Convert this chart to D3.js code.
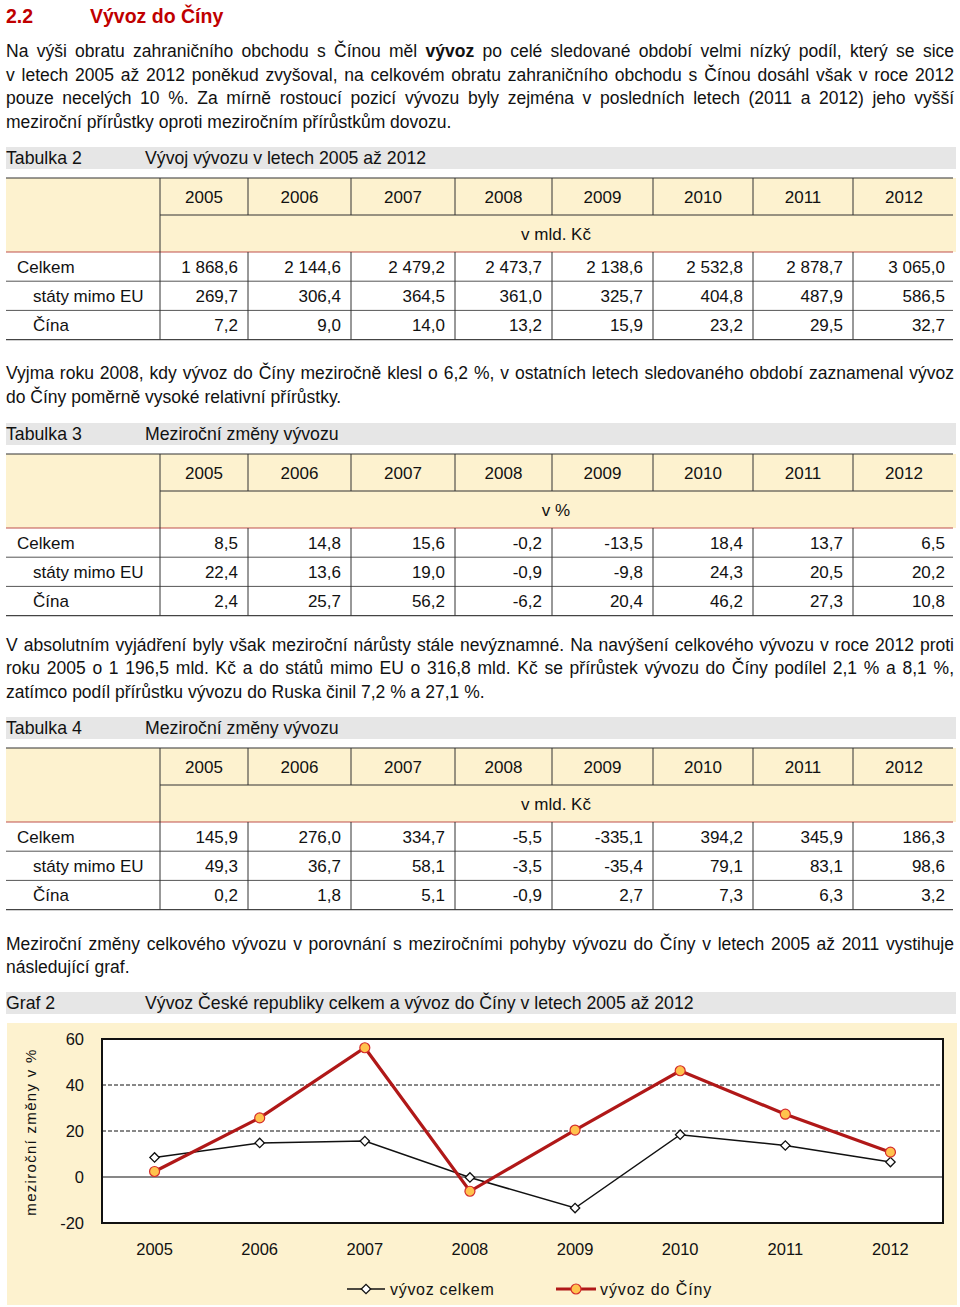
<!DOCTYPE html>
<html>
<head>
<meta charset="utf-8">
<script src="https://cdn.jsdelivr.net/npm/d3@7"></script>
<style>
  body { margin: 0; background: #fff; }
  #page { position: relative; width: 960px; height: 1307px; overflow: hidden; font-family: "Liberation Sans", Arial, sans-serif; color: #111; }
  #page svg { position: absolute; left: 0; top: 0; }
  .ln { position: absolute; left: 6px; width: 948px; font-size: 17.5px; line-height: 24px; white-space: nowrap; text-align: justify; text-align-last: justify; }
  .ln.last { text-align-last: left; }
</style>
</head>
<body>
<div id="page"></div>
<script>
// table + chart data
var years = ["2005", "2006", "2007", "2008", "2009", "2010", "2011", "2012"];
var rowLabels = ["Celkem", "státy mimo EU", "Čína"];

var t2Celkem = ["1 868,6", "2 144,6", "2 479,2", "2 473,7", "2 138,6", "2 532,8", "2 878,7", "3 065,0"];
var t2MimoEU = ["269,7", "306,4", "364,5", "361,0", "325,7", "404,8", "487,9", "586,5"];
var t2Cina   = ["7,2", "9,0", "14,0", "13,2", "15,9", "23,2", "29,5", "32,7"];

var t3Celkem = ["8,5", "14,8", "15,6", "-0,2", "-13,5", "18,4", "13,7", "6,5"];
var t3MimoEU = ["22,4", "13,6", "19,0", "-0,9", "-9,8", "24,3", "20,5", "20,2"];
var t3Cina   = ["2,4", "25,7", "56,2", "-6,2", "20,4", "46,2", "27,3", "10,8"];

var t4Celkem = ["145,9", "276,0", "334,7", "-5,5", "-335,1", "394,2", "345,9", "186,3"];
var t4MimoEU = ["49,3", "36,7", "58,1", "-3,5", "-35,4", "79,1", "83,1", "98,6"];
var t4Cina   = ["0,2", "1,8", "5,1", "-0,9", "2,7", "7,3", "6,3", "3,2"];

// graph series (meziroční změny v %)
var vyvozCelkem = [8.5, 14.8, 15.6, -0.2, -13.5, 18.4, 13.7, 6.5];
var vyvozCina   = [2.4, 25.7, 56.2, -6.2, 20.4, 46.2, 27.3, 10.8];
var yTicks = [-20, 0, 20, 40, 60];

var page = d3.select("#page");
var W = 960, H = 1307;
var svg = page.append("svg").attr("width", W).attr("height", H);

var red = "#c00000";
var cream = "#fdf2cf";
var capGray = "#e6e6e6";
var fs = 17.7;   // caption size
var tfs = 17;    // table size

// heading
svg.append("text").attr("x", 6).attr("y", 23).attr("fill", red)
  .attr("font-size", 19.5).attr("font-weight", "bold").text("2.2");
svg.append("text").attr("x", 90).attr("y", 23).attr("fill", red)
  .attr("font-size", 19.5).attr("font-weight", "bold").text("Vývoz do Číny");

// paragraphs, one div per line so the breaks stay as in the original
function para(lines, centers) {
  lines.forEach(function(t, i) {
    page.append("div")
      .attr("class", "ln" + (i == lines.length - 1 ? " last" : ""))
      .style("top", (centers[i] - 12) + "px")
      .html(t);
  });
}
para([
  "Na výši obratu zahraničního obchodu s Čínou měl <b>vývoz</b> po celé sledované období velmi nízký podíl, který se sice",
  "v letech 2005 až 2012 poněkud zvyšoval, na celkovém obratu zahraničního obchodu s Čínou dosáhl však v roce 2012",
  "pouze necelých 10 %. Za mírně rostoucí pozicí vývozu byly zejména v posledních letech (2011 a 2012) jeho vyšší",
  "meziroční přírůstky oproti meziročním přírůstkům dovozu."
], [51, 74.5, 98, 121.5]);
para([
  "Vyjma roku 2008, kdy vývoz do Číny meziročně klesl o 6,2 %, v ostatních letech sledovaného období zaznamenal vývoz",
  "do Číny poměrně vysoké relativní přírůstky."
], [373, 396.5]);
para([
  "V absolutním vyjádření byly však meziroční nárůsty stále nevýznamné. Na navýšení celkového vývozu v roce 2012 proti",
  "roku 2005 o 1 196,5 mld. Kč a do států mimo EU o 316,8 mld. Kč se přírůstek vývozu do Číny podílel 2,1 % a 8,1 %,",
  "zatímco podíl přírůstku vývozu do Ruska činil 7,2 % a 27,1 %."
], [645, 668, 691.5]);
para([
  "Meziroční změny celkového vývozu v porovnání s meziročními pohyby vývozu do Číny v letech 2005 až 2011 vystihuje",
  "následující graf."
], [944, 967]);

// caption bar
function caption(y, tag, title) {
  svg.append("rect").attr("x", 6).attr("y", y).attr("width", 950).attr("height", 22).attr("fill", capGray);
  svg.append("text").attr("x", 6).attr("y", y + 17).attr("font-size", fs).attr("fill", "#111").text(tag);
  svg.append("text").attr("x", 145).attr("y", y + 17).attr("font-size", fs).attr("fill", "#111").text(title);
}

// column edges of the tables
var colEdges = [160, 248, 351, 455, 552, 653, 753, 853, 955];
var left = 6, right = 956;

function table(top, tag, title, unit, rows) {
  caption(top - 31, tag, title);
  var g = svg.append("g");
  var h1 = 37, h2 = 37, rh = 29.2;
  var yRow = top + h1 + h2;

  g.append("rect").attr("x", left).attr("y", top).attr("width", right - left).attr("height", h1 + h2).attr("fill", cream);

  // years
  g.selectAll("text.yr").data(years).enter().append("text")
    .attr("x", function(d, i) { return (colEdges[i] + colEdges[i + 1]) / 2; })
    .attr("y", top + h1 / 2 + 6)
    .attr("text-anchor", "middle").attr("font-size", tfs).attr("fill", "#111")
    .text(function(d) { return d; });
  g.append("text").attr("x", 556).attr("y", top + h1 + h2 / 2 + 6)
    .attr("text-anchor", "middle").attr("font-size", tfs).attr("fill", "#111").text(unit);

  // data rows
  rows.forEach(function(vals, r) {
    var cy = yRow + rh * r + rh / 2 + 6;
    g.append("text").attr("x", r == 0 ? 17 : 33).attr("y", cy).attr("font-size", tfs).attr("fill", "#111").text(rowLabels[r]);
    g.selectAll("text.v" + r).data(vals).enter().append("text")
      .attr("x", function(d, i) { return colEdges[i + 1] - 10; })
      .attr("y", cy).attr("text-anchor", "end").attr("font-size", tfs).attr("fill", "#111")
      .text(function(d) { return d; });
  });

  // lines
  var ln = function(x1, y1, x2, y2, c, w) {
    g.append("line").attr("x1", x1).attr("y1", y1).attr("x2", x2).attr("y2", y2)
      .attr("stroke", c).attr("stroke-width", w || 1);
  };
  var bottom = yRow + rh * rows.length;
  ln(left, top, right - 3, top, "#333", 1.2);
  ln(colEdges[0], top + h1, right - 3, top + h1, "#333", 1);
  ln(left, yRow, right - 3, yRow, "#c0504d", 1.2);
  for (var r = 1; r < rows.length; r++) ln(left, yRow + rh * r, right - 3, yRow + rh * r, "#555", 1);
  ln(left, bottom, right - 3, bottom, "#444", 1.2);
  ln(colEdges[0], top, colEdges[0], bottom, "#333", 1);
  for (var i = 1; i < colEdges.length - 1; i++) {
    ln(colEdges[i], top, colEdges[i], top + h1, "#333", 1);
    ln(colEdges[i], yRow, colEdges[i], bottom, "#333", 1);
  }
}

table(178, "Tabulka 2", "Vývoj vývozu v letech 2005 až 2012", "v mld. Kč", [t2Celkem, t2MimoEU, t2Cina]);
table(454, "Tabulka 3", "Meziroční změny vývozu", "v %", [t3Celkem, t3MimoEU, t3Cina]);
table(748, "Tabulka 4", "Meziroční změny vývozu", "v mld. Kč", [t4Celkem, t4MimoEU, t4Cina]);

// ---- Graf 2 ----
caption(992, "Graf 2", "Vývoz České republiky celkem a vývoz do Číny v letech 2005 až 2012");
svg.append("rect").attr("x", 7).attr("y", 1023).attr("width", 950).attr("height", 282).attr("fill", cream);

var plotL = 102, plotR = 943, plotT = 1039, plotB = 1223;
var x = d3.scaleBand().domain(years).range([plotL, plotR]);
var xc = function(d) { return x(d) + x.bandwidth() / 2; };
var y = d3.scaleLinear().domain([-20, 60]).range([plotB, plotT]);

var chart = svg.append("g");
chart.append("rect").attr("x", plotL).attr("y", plotT).attr("width", plotR - plotL).attr("height", plotB - plotT)
  .attr("fill", "#fff");

chart.selectAll("line.grid").data(yTicks.filter(function(t) { return t > -20 && t < 60; })).enter()
  .append("line")
  .attr("x1", plotL).attr("x2", plotR)
  .attr("y1", function(d) { return y(d); }).attr("y2", function(d) { return y(d); })
  .attr("stroke", "#111").attr("stroke-width", function(d) { return d == 0 ? 1.2 : 1; })
  .attr("stroke-dasharray", function(d) { return d == 0 ? null : "4,2"; });

chart.append("rect").attr("x", plotL).attr("y", plotT).attr("width", plotR - plotL).attr("height", plotB - plotT)
  .attr("fill", "none").attr("stroke", "#111").attr("stroke-width", 2);

// axes
var yAx = chart.append("g").attr("transform", "translate(" + plotL + ",0)")
  .call(d3.axisLeft(y).tickValues(yTicks).tickSize(0).tickPadding(18).tickFormat(function(d) { return String(d); }));
yAx.select(".domain").remove();
yAx.selectAll("text").attr("font-size", 16.5).attr("font-family", "Liberation Sans, Arial, sans-serif").attr("fill", "#111");

var xAx = chart.append("g").attr("transform", "translate(0," + plotB + ")")
  .call(d3.axisBottom(x).tickSize(0).tickPadding(20));
xAx.select(".domain").remove();
xAx.selectAll("text").attr("font-size", 16.5).attr("font-family", "Liberation Sans, Arial, sans-serif").attr("fill", "#111");

svg.append("text")
  .attr("transform", "translate(36,1132) rotate(-90)")
  .attr("text-anchor", "middle").attr("font-size", 15).attr("letter-spacing", 1.3).attr("fill", "#111")
  .text("meziroční změny v %");

// series
var line = d3.line().x(function(d, i) { return xc(years[i]); }).y(function(d) { return y(d); });
chart.append("path").datum(vyvozCelkem).attr("d", line).attr("fill", "none").attr("stroke", "#111").attr("stroke-width", 1.5);
chart.append("path").datum(vyvozCina).attr("d", line).attr("fill", "none").attr("stroke", "#b01818").attr("stroke-width", 3.2);

var diamond = d3.symbol().type(d3.symbolSquare).size(44);
chart.selectAll("path.dia").data(vyvozCelkem).enter().append("path")
  .attr("d", diamond())
  .attr("transform", function(d, i) { return "translate(" + xc(years[i]) + "," + y(d) + ") rotate(45)"; })
  .attr("fill", "#fff").attr("stroke", "#111").attr("stroke-width", 1.3);
chart.selectAll("circle.dot").data(vyvozCina).enter().append("circle")
  .attr("cx", function(d, i) { return xc(years[i]); }).attr("cy", function(d) { return y(d); })
  .attr("r", 5).attr("fill", "#ffc34d").attr("stroke", "#d42b2b").attr("stroke-width", 1.2);

// legend
var lg = svg.append("g");
lg.append("line").attr("x1", 347).attr("x2", 385).attr("y1", 1289).attr("y2", 1289).attr("stroke", "#111").attr("stroke-width", 1.5);
lg.append("path").attr("d", diamond()).attr("transform", "translate(366,1289) rotate(45)")
  .attr("fill", "#fff").attr("stroke", "#111").attr("stroke-width", 1.3);
lg.append("text").attr("x", 390).attr("y", 1295).attr("font-size", 16).attr("letter-spacing", 0.7).attr("fill", "#111").text("vývoz celkem");
lg.append("line").attr("x1", 556).attr("x2", 596).attr("y1", 1289).attr("y2", 1289).attr("stroke", "#b01818").attr("stroke-width", 3.2);
lg.append("circle").attr("cx", 576).attr("cy", 1289).attr("r", 5).attr("fill", "#ffc34d").attr("stroke", "#d42b2b").attr("stroke-width", 1.2);
lg.append("text").attr("x", 600).attr("y", 1295).attr("font-size", 16).attr("letter-spacing", 0.9).attr("fill", "#111").text("vývoz do Číny");
</script>
</body>
</html>
